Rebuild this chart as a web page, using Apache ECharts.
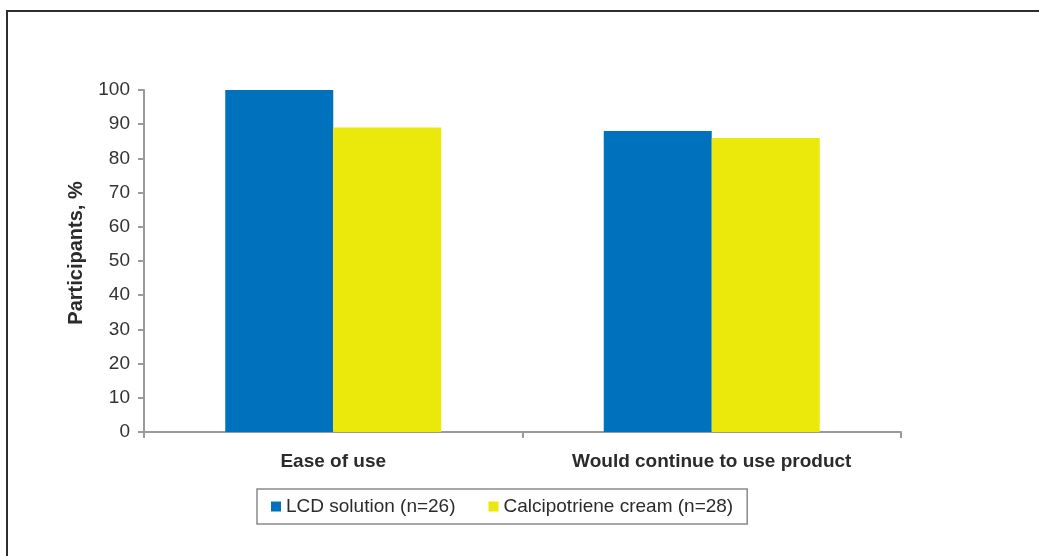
<!DOCTYPE html>
<html>
<head>
<meta charset="utf-8">
<script src="https://cdn.jsdelivr.net/npm/echarts@6/dist/echarts.min.js"></script>
<style>
  html, body { margin: 0; padding: 0; background: #ffffff; }
  #chart { width: 1039px; height: 556px; }
</style>
</head>
<body>
<div id="chart"></div>
<script>
// Survey responses: share of participants per question, by treatment arm
const categories = ['Ease of use', 'Would continue to use product'];
const seriesNames = ['LCD solution (n=26)', 'Calcipotriene cream (n=28)'];
const lcdValues = [100, 88];
const calcipotrieneValues = [89, 86];
const yTicks = { min: 0, max: 100, interval: 10 };

const FONT = '"Liberation Sans", Arial, Helvetica, sans-serif';
const AXIS_GRAY = '#9a9a9a';
const TEXT = '#2b2b2b';

const chart = echarts.init(document.getElementById('chart'), null, { renderer: 'canvas' });

chart.setOption({
  backgroundColor: '#ffffff',
  animation: false,
  textStyle: { fontFamily: FONT },
  graphic: [
    {
      type: 'rect',
      shape: { x: 7, y: 11, width: 1060, height: 580 },
      style: { fill: 'none', stroke: '#2e2e2e', lineWidth: 2 },
      silent: true
    }
  ],
  grid: { left: 144, right: 138, top: 90, bottom: 124, containLabel: false },
  legend: {
    left: 257,
    top: 489,
    orient: 'horizontal',
    data: seriesNames,
    icon: 'rect',
    itemWidth: 10,
    itemHeight: 10,
    itemGap: 33,
    borderColor: '#8a8a8a',
    borderWidth: 1.5,
    borderRadius: 0,
    padding: [8, 14, 8, 14],
    textStyle: { fontFamily: FONT, fontSize: 19, color: TEXT, padding: [0, 0, 0, 0] }
  },
  xAxis: {
    type: 'category',
    data: categories,
    boundaryGap: true,
    axisLine: { show: true, lineStyle: { color: AXIS_GRAY, width: 2 } },
    axisTick: { show: true, length: 6, inside: false, lineStyle: { color: AXIS_GRAY, width: 2 } },
    axisLabel: { margin: 20, fontSize: 19, fontWeight: 'bold', color: TEXT, fontFamily: FONT },
    splitLine: { show: false }
  },
  yAxis: {
    type: 'value',
    min: yTicks.min,
    max: yTicks.max,
    interval: yTicks.interval,
    name: 'Participants, %',
    nameLocation: 'middle',
    nameGap: 58,
    nameRotate: 90,
    nameTextStyle: {
      fontSize: 20, fontWeight: 'bold', color: TEXT, fontFamily: FONT,
      padding: [0, 0, 0, 16]
    },
    axisLine: { show: true, lineStyle: { color: AXIS_GRAY, width: 2 } },
    axisTick: { show: true, length: 6, inside: false, lineStyle: { color: AXIS_GRAY, width: 2 } },
    axisLabel: { margin: 14, fontSize: 19, color: '#333333', fontFamily: FONT },
    splitLine: { show: false }
  },
  series: [
    {
      name: seriesNames[0],
      type: 'bar',
      data: lcdValues,
      barWidth: 108,
      barGap: '0%',
      itemStyle: { color: '#0071bc' }
    },
    {
      name: seriesNames[1],
      type: 'bar',
      data: calcipotrieneValues,
      barWidth: 108,
      barGap: '0%',
      itemStyle: { color: '#ebe80c' }
    }
  ]
});
</script>
</body>
</html>
